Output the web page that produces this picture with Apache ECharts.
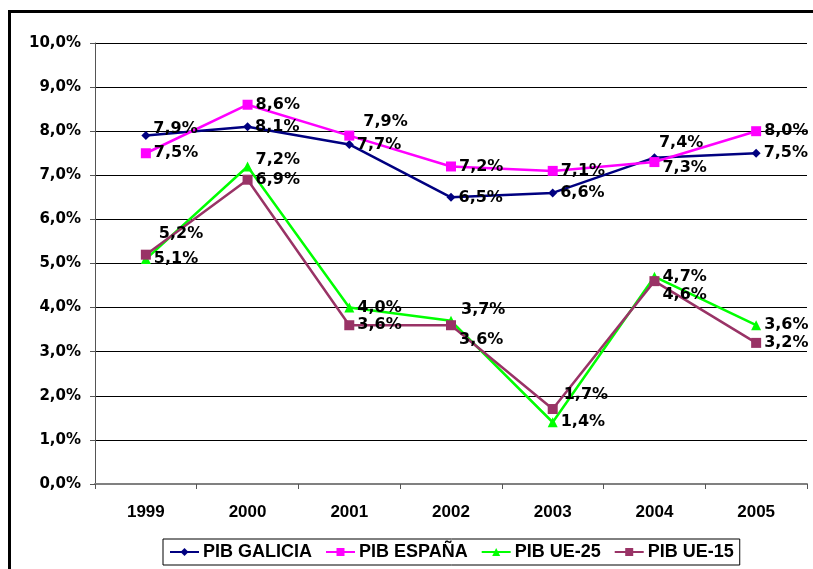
<!DOCTYPE html>
<html>
<head>
<meta charset="utf-8">
<script src="https://cdn.jsdelivr.net/npm/echarts@6/dist/echarts.min.js"></script>
<style>
    html, body { margin: 0; padding: 0; background: #fff; }
    #chart { width: 813px; height: 569px; }
</style>
</head>
<body>
<div id="chart"></div>
<script>
// 数据
const years = ["1999", "2000", "2001", "2002", "2003", "2004", "2005"];
const pibGalicia = [7.9, 8.1, 7.7, 6.5, 6.6, 7.4, 7.5];
const pibEspana = [7.5, 8.6, 7.9, 7.2, 7.1, 7.3, 8.0];
const pibUE25 = [5.1, 7.2, 4.0, 3.7, 1.4, 4.7, 3.6];
const pibUE15 = [5.2, 6.9, 3.6, 3.6, 1.7, 4.6, 3.2];

// 标签偏移（相对于右侧默认位置）
const labelShift = {
    galicia: { 0: [0, -7], 5: [-3, -15] },
    espana: { 2: [6, -14], 5: [0, 6] },
    ue25: { 1: [0, -7], 3: [2, -11] },
    ue15: { 0: [5, -21], 3: [0, 15], 4: [3, -14], 5: [0, 14] }
};

(function () {
    const my_echart = echarts.init(document.querySelector("#chart"));
    const fmt = function (v) {
        return Number(v).toFixed(1).replace(".", ",") + "%";
    };
    const wide = "DejaVu Sans, Arial, sans-serif";
    const arial = "Liberation Sans, Arial, sans-serif";
    // 构造带偏移的数据点
    const build = function (values, key) {
        return values.map(function (v, i) {
            const s = labelShift[key][i];
            if (!s) return v;
            return { value: v, label: { offset: s } };
        });
    };
    const makeSeries = function (name, values, key, color, symbol, size) {
        return {
            name: name,
            type: "line",
            data: build(values, key),
            symbol: symbol,
            symbolSize: size,
            lineStyle: { color: color, width: 2.5 },
            itemStyle: { color: color },
            label: {
                show: true,
                position: "right",
                distance: 3,
                color: "#000",
                fontFamily: wide,
                fontWeight: "bold",
                fontSize: 16,
                formatter: function (p) { return fmt(p.value); }
            },
            emphasis: { disabled: true },
            animation: false
        };
    };
    let option = {
        animation: false,
        graphic: [
            { // 外框
                type: "rect",
                shape: { x: 9.5, y: 11.5, width: 900, height: 700 },
                style: { fill: "none", stroke: "#000", lineWidth: 3 },
                silent: true
            }
        ],
        legend: {
            left: 163,
            top: 539,
            itemWidth: 29,
            itemHeight: 10,
            itemGap: 13,
            padding: [4, 6, 4, 6],
            borderColor: "#000",
            borderWidth: 1,
            backgroundColor: "#fff",
            textStyle: {
                color: "#000",
                fontFamily: arial,
                fontWeight: "bold",
                fontSize: 18,
                padding: [0, 0, 0, -1]
            },
            data: ["PIB GALICIA", "PIB ESPAÑA", "PIB UE-25", "PIB UE-15"]
        },
        grid: {
            left: 95,
            right: 6,
            top: 43,
            bottom: 85
        },
        xAxis: {
            type: "category",
            data: years,
            boundaryGap: true,
            axisLine: { lineStyle: { color: "#808080", width: 2 } },
            axisTick: { show: true, inside: false, length: 5, lineStyle: { color: "#555" } },
            axisLabel: {
                color: "#000",
                fontFamily: arial,
                fontWeight: "bold",
                fontSize: 17,
                margin: 20
            }
        },
        yAxis: {
            type: "value",
            min: 0,
            max: 10,
            interval: 1,
            axisLine: { show: true, lineStyle: { color: "#555", width: 1 } },
            axisTick: { show: true, length: 5, lineStyle: { color: "#555" } },
            axisLabel: {
                color: "#000",
                fontFamily: wide,
                fontWeight: "bold",
                fontSize: 15,
                margin: 14,
                formatter: fmt
            },
            splitLine: { lineStyle: { color: "#000", width: 1 } }
        },
        series: [
            makeSeries("PIB GALICIA", pibGalicia, "galicia", "#000080", "diamond", 9),
            makeSeries("PIB ESPAÑA", pibEspana, "espana", "#ff00ff", "rect", 10),
            makeSeries("PIB UE-25", pibUE25, "ue25", "#00ff00", "triangle", 10),
            makeSeries("PIB UE-15", pibUE15, "ue15", "#993366", "rect", 10)
        ]
    }; //配置项
    my_echart.setOption(option);
    window.addEventListener("resize", function () {
        my_echart.resize();
    });
})();
</script>
</body>
</html>
